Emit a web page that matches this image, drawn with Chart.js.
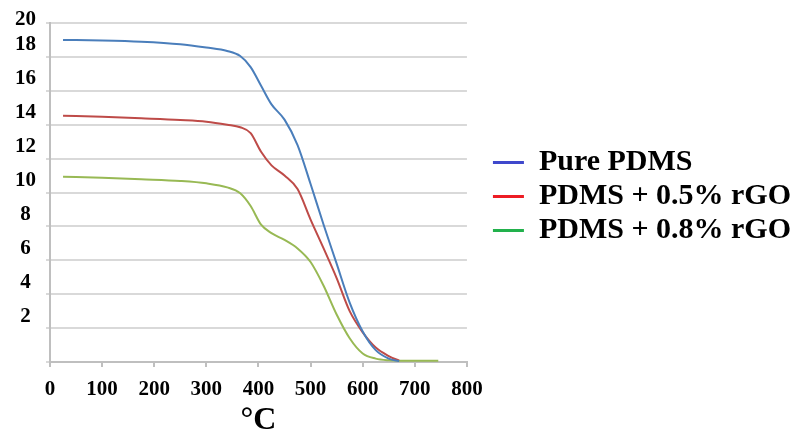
<!DOCTYPE html>
<html>
<head>
<meta charset="utf-8">
<title>TGA PDMS / rGO</title>
<script src="https://cdn.jsdelivr.net/npm/chart.js@4.4.1/dist/chart.umd.min.js"></script>
<style>
  html, body { margin: 0; padding: 0; background: #fff; }
  #wrap { width: 792px; height: 435px; }
</style>
</head>
<body>
<div id="wrap"><canvas id="tga" width="792" height="435"></canvas></div>
<script>
// Temperatura (ºC) y masa de cada muestra
const temps = [25, 100, 175, 250, 300, 340, 365, 385, 405, 425, 450, 475, 500, 525, 550, 575, 600, 625, 650, 670, 700, 745];
const purePdms = [19.0, 18.97, 18.9, 18.75, 18.55, 18.35, 18.05, 17.4, 16.3, 15.2, 14.3, 12.8, 10.5, 8.1, 5.8, 3.5, 1.8, 0.7, 0.2, 0.05, null, null];
const pdms05 = [14.53, 14.47, 14.38, 14.28, 14.18, 14.0, 13.85, 13.5, 12.4, 11.6, 11.0, 10.2, 8.4, 6.7, 4.95, 3.0, 1.75, 0.85, 0.35, 0.08, null, null];
const pdms08 = [10.93, 10.87, 10.78, 10.68, 10.54, 10.3, 9.95, 9.2, 8.1, 7.6, 7.2, 6.7, 5.9, 4.5, 2.8, 1.4, 0.5, 0.2, 0.1, 0.08, 0.07, 0.07];

const seriesNames = ['Pure PDMS', 'PDMS + 0.5% rGO', 'PDMS + 0.8% rGO'];
const lineColors = ['#4a7ebb', '#be4b48', '#98b954'];
const legendColors = ['#3f48cc', '#ed1c24', '#22b14c'];

const xTicks = [0, 100, 200, 300, 400, 500, 600, 700, 800];
const yTicks = [0, 2, 4, 6, 8, 10, 12, 14, 16, 18, 20];

const serif = '"Liberation Serif", "Times New Roman", serif';

function toPoints(values) {
  return temps.map((t, i) => ({ x: t, y: values[i] }));
}

const datasets = [purePdms, pdms05, pdms08].map((vals, i) => ({
  label: seriesNames[i],
  data: toPoints(vals),
  borderColor: lineColors[i],
  backgroundColor: lineColors[i],
  borderWidth: 2,
  pointRadius: 0,
  cubicInterpolationMode: 'monotone',
  spanGaps: false
}));

// leave a gap between the plot and the legend
const legendGap = {
  id: 'legendGap',
  afterLayout(chart) {
    const lg = chart.legend;
    if (!lg) return;
    lg.left += 22;
    lg.right += 22;
    lg.top += 4;
    lg.bottom += 4;
  }
};

const ctx = document.getElementById('tga').getContext('2d');
new Chart(ctx, {
  type: 'line',
  data: { datasets: datasets },
  plugins: [legendGap],
  options: {
    responsive: false,
    animation: false,
    layout: { padding: { top: 23, right: 13, bottom: 0, left: 0 } },
    scales: {
      x: {
        type: 'linear',
        min: 0,
        max: 800,
        afterBuildTicks: axis => { axis.ticks = xTicks.map(v => ({ value: v })); },
        afterFit: axis => { axis.height = 73; },
        border: { color: '#bfbfbf', width: 2 },
        grid: { drawOnChartArea: false, drawTicks: true, tickLength: 5, color: '#bfbfbf', lineWidth: 2 },
        ticks: {
          color: '#000',
          padding: 10,
          maxRotation: 0,
          autoSkip: false,
          font: { family: serif, size: 21, weight: 'bold' }
        },
        title: {
          display: true,
          text: '°C',
          color: '#000',
          padding: { top: 0, bottom: -2 },
          font: { family: serif, size: 32, weight: 'bold', lineHeight: 1 }
        }
      },
      y: {
        min: 0,
        max: 20,
        afterBuildTicks: axis => { axis.ticks = yTicks.map(v => ({ value: v })); },
        afterFit: axis => { axis.width = 50; },
        border: { color: '#bfbfbf', width: 2 },
        grid: { color: '#d9d9d9', lineWidth: 2, tickLength: 4 },
        ticks: {
          color: '#000',
          padding: 10,
          crossAlign: 'center',
          autoSkip: false,
          // empty second line lifts the number above its grid line
          callback: v => v === 0 ? '' : [String(v), ''],
          font: c => ({
            family: serif,
            size: 21,
            weight: 'bold',
            lineHeight: c.tick && c.tick.value === 20 ? '6px' : '24px'
          })
        }
      }
    },
    plugins: {
      tooltip: { enabled: false },
      legend: {
        position: 'right',
        fullSize: false,
        align: 'center',
        maxWidth: 400,
        labels: {
          color: '#000',
          boxWidth: 31,
          boxHeight: 3,
          padding: 4,
          font: { family: serif, size: 30, weight: 'bold' },
          generateLabels: chart => chart.data.datasets.map((ds, i) => ({
            text: ds.label,
            fillStyle: legendColors[i],
            strokeStyle: legendColors[i],
            lineWidth: 0,
            hidden: false,
            datasetIndex: i
          }))
        }
      }
    }
  }
});
</script>
</body>
</html>
